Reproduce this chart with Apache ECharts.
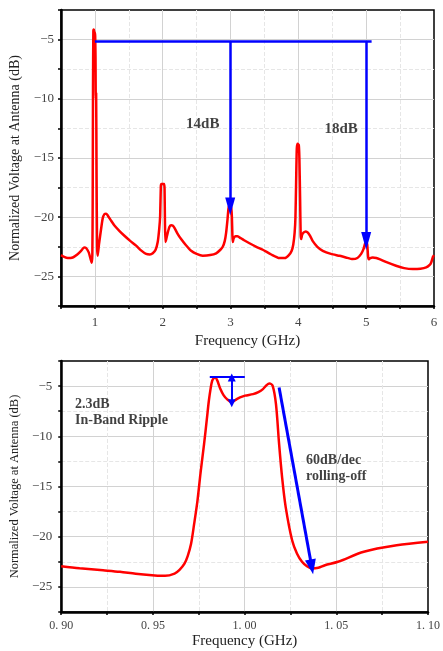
<!DOCTYPE html>
<html><head><meta charset="utf-8">
<script src="https://cdn.jsdelivr.net/npm/echarts@6/dist/echarts.min.js"></script>
<style>html,body{margin:0;padding:0;background:#fff}#c{width:443px;height:651px}</style>
</head><body><div id="c"></div>
<script>
// ---- Top chart data (wideband, 0.5-6 GHz) ----
const topFreq = [0.5,0.53,0.6,0.673,0.74,0.796,0.84,0.87,0.909,0.935,0.953,0.962,0.967,0.972,0.977,0.983,0.989,0.994,0.999,1.004,1.009,1.013,1.018,1.024,1.032,1.041,1.06,1.091,1.115,1.14,1.165,1.189,1.24,1.288,1.36,1.435,1.52,1.608,1.68,1.755,1.81,1.853,1.895,1.926,1.948,1.962,1.972,1.98,2.0,2.02,2.027,2.033,2.04,2.05,2.074,2.1,2.124,2.15,2.173,2.22,2.271,2.34,2.419,2.5,2.59,2.7,2.788,2.85,2.885,2.915,2.935,2.955,2.969,2.985,3.0,3.012,3.02,3.027,3.033,3.045,3.072,3.1,3.131,3.2,3.279,3.38,3.475,3.6,3.72,3.8,3.86,3.9,3.925,3.945,3.957,3.967,3.977,3.99,4.006,4.015,4.026,4.034,4.042,4.055,4.075,4.11,4.14,4.175,4.21,4.28,4.36,4.48,4.606,4.7,4.8,4.87,4.926,4.96,4.985,5.0,5.015,5.028,5.038,5.06,5.097,5.15,5.196,5.3,5.44,5.56,5.687,5.8,5.885,5.94,5.96,5.985,6.0];
const topVolt = [-23.2,-23.3,-23.45,-23.4,-23.15,-22.84,-22.55,-22.6,-22.97,-23.5,-23.85,-23.2,-19,-9,-4.3,-4.15,-4.3,-5.5,-4.4,-4.7,-6.5,-10,-9.5,-16,-22.5,-23.26,-22.3,-21,-20.1,-19.74,-19.7,-19.85,-20.3,-20.7,-21.15,-21.57,-22.0,-22.4,-22.8,-23.1,-23.15,-23.05,-22.75,-22.1,-21,-19.9,-17.4,-17.2,-17.2,-17.2,-17.6,-20.5,-22.1,-21.9,-21.3,-20.8,-20.67,-20.72,-20.9,-21.4,-21.85,-22.35,-22.84,-23.1,-23.25,-23.2,-23.05,-22.75,-22.5,-22.0,-21.3,-20.2,-19.3,-18.95,-19.0,-19.3,-20.0,-21.5,-22.1,-21.8,-21.6,-21.6,-21.7,-21.95,-22.2,-22.5,-22.75,-23.15,-23.45,-23.45,-23.2,-22.85,-22.3,-21.3,-20.0,-17,-14.2,-13.8,-13.9,-15,-18.5,-21.5,-21.85,-21.5,-21.3,-21.2,-21.3,-21.6,-22.0,-22.5,-22.84,-23.1,-23.26,-23.4,-23.54,-23.45,-23.1,-22.7,-22.2,-22.13,-22.3,-23.3,-23.55,-23.45,-23.4,-23.45,-23.54,-23.8,-24.1,-24.3,-24.38,-24.35,-24.24,-24.0,-23.8,-23.34,-23.2];

// ---- Bottom chart data (zoom around 1 GHz) ----
const botFreq = [0.9,0.91,0.9228,0.932,0.9406,0.9495,0.9547,0.9566,0.9618,0.9645,0.9672,0.969,0.9708,0.9725,0.9743,0.976,0.9779,0.9794,0.9805,0.9815,0.9823,0.9832,0.9841,0.985,0.9868,0.9885,0.9904,0.993,0.9957,0.9975,1.0002,1.0046,1.0075,1.01,1.012,1.0135,1.0153,1.0171,1.0188,1.0205,1.0224,1.0259,1.0286,1.0313,1.034,1.0366,1.0402,1.0438,1.0509,1.065,1.0829,1.1];
const botVolt = [-22.95,-23.15,-23.35,-23.5,-23.7,-23.85,-23.9,-23.9,-23.67,-23.3,-22.68,-21.9,-20.7,-18.7,-16.4,-13.6,-10.76,-8.3,-6.46,-5.2,-4.47,-4.2,-4.15,-4.4,-5.3,-5.9,-6.3,-6.6,-6.3,-6.13,-5.95,-5.8,-5.6,-5.3,-4.9,-4.74,-4.97,-6.8,-10.76,-14.2,-17.05,-20.36,-21.7,-22.5,-22.95,-23.17,-23.1,-22.85,-22.5,-21.5,-20.86,-20.5];

// axis tick values
const topXTicks = [1,2,3,4,5,6];
const yTicks = [-5,-10,-15,-20,-25];
const botXTicks = [0.90,0.95,1.00,1.05,1.10];

// annotations (data coordinates)
const topHLine = [[1.0,-5.18],[5.08,-5.18]];
const topArrow1 = [[2.995,-5.18],[2.995,-19.1]];
const topArrow2 = [[5.0,-5.18],[5.0,-22.0]];
const topTexts = [[2.59,-12.15,'14dB'],[4.63,-12.6,'18dB']];
const botHLine = [[0.981,-4.05],[1.0001,-4.05]];
const botRipple = [[0.993,-4.15],[0.993,-6.7]];
const botRoll = [[1.0188,-5.14],[1.0366,-23.0]];
const botTexts = [[0.9075,-6.8,'2.3dB'],[0.9075,-8.45,'In-Band Ripple'],[1.0335,-12.4,'60dB/dec'],[1.0335,-13.97,'rolling-off']];

const zip = (a,b)=>a.map((v,i)=>[v,b[i]]);
const near = (v,list)=>list.some(t=>Math.abs(t-v)<1e-6);
const serif = 'Liberation Serif';
const minus = s => String(s).replace('-','\u2212');

function yAxisMain(gi, nameSize, nameGap, labelMargin){
  return {
    type:'value', gridIndex:gi, min:-27.5, max:-2.5, interval:2.5,
    name:'Normalized Voltage at Antenna (dB)', nameLocation:'middle', nameGap:nameGap,
    nameTextStyle:{fontFamily:serif,fontSize:nameSize,color:'#222'},
    axisLine:{show:true,lineStyle:{color:'#000',width:2.5}},
    axisTick:{show:true,length:3,lineStyle:{color:'#000',width:1.5}},
    axisLabel:{margin:labelMargin,fontFamily:serif,fontSize:13,color:'#444',
      formatter:v=>near(v,yTicks)?minus(Math.round(v)):''},
    splitLine:{show:true,showMinLine:false,showMaxLine:false,lineStyle:{color:'#e6e6e6',type:'dashed',width:1}}
  };
}
function overlayAxis(gi, min, max, interval, colors){
  return {
    type:'value', gridIndex:gi, min:min, max:max, interval:interval,
    axisLine:{show:false}, axisTick:{show:false}, axisLabel:{show:false},
    splitLine:{show:true,showMinLine:false,showMaxLine:false,lineStyle:{color:colors,type:'solid',width:1}}
  };
}

function lineMark(p, startSym, endSym, sizeS, sizeE, extra){
  return [Object.assign({coord:p[0],symbol:startSym,symbolSize:sizeS},extra||{}),{coord:p[1],symbol:endSym,symbolSize:sizeE}];
}

const option = {
  backgroundColor:'#fff',
  animation:false,
  grid:[
    {left:61,right:9,top:10,height:296,show:true,borderColor:'#000',borderWidth:1.5,backgroundColor:'transparent'},
    {left:57.5,right:11,top:361,height:251,show:true,borderColor:'#000',borderWidth:1.5,backgroundColor:'transparent'}
  ],
  xAxis:[
    {type:'value',gridIndex:0,min:0.5,max:6,interval:0.5,
      name:'Frequency (GHz)',nameLocation:'middle',nameGap:28,
      nameTextStyle:{fontFamily:serif,fontSize:15,color:'#222'},
      axisLine:{show:true,onZero:false,lineStyle:{color:'#000',width:2.5}},
      axisTick:{show:true,length:3,lineStyle:{color:'#000',width:1.5}},
      axisLabel:{margin:10,fontFamily:serif,fontSize:13,color:'#444',
        formatter:v=>near(v,topXTicks)?String(Math.round(v)):''},
      splitLine:{show:true,showMinLine:false,showMaxLine:false,lineStyle:{color:'#e6e6e6',type:'dashed',width:1}}},
    {type:'value',gridIndex:1,min:0.9,max:1.1,interval:0.025,
      name:'Frequency (GHz)',nameLocation:'middle',nameGap:22,
      nameTextStyle:{fontFamily:serif,fontSize:15,color:'#222'},
      axisLine:{show:true,onZero:false,lineStyle:{color:'#000',width:2.5}},
      axisTick:{show:true,length:3,lineStyle:{color:'#000',width:1.5}},
      axisLabel:{margin:8,fontFamily:serif,fontSize:12,color:'#444',
        formatter:v=>near(v,botXTicks)?v.toFixed(2).replace('.','. '):''},
      splitLine:{show:true,showMinLine:false,showMaxLine:false,lineStyle:{color:'#e6e6e6',type:'dashed',width:1}}},
    overlayAxis(0,0.5,6,0.5,['#d2d2d2','rgba(0,0,0,0)']),
    overlayAxis(1,0.9,1.1,0.025,['rgba(0,0,0,0)','#d2d2d2'])
  ],
  yAxis:[
    yAxisMain(0,14,30,7),
    yAxisMain(1,12.5,30,9),
    overlayAxis(0,-27.5,-2.5,2.5,['#d2d2d2','rgba(0,0,0,0)']),
    overlayAxis(1,-27.5,-2.5,2.5,['#d2d2d2','rgba(0,0,0,0)'])
  ],
  series:[
    {type:'line',xAxisIndex:0,yAxisIndex:0,data:zip(topFreq,topVolt),showSymbol:false,smooth:0.2,
      lineStyle:{color:'#ff0000',width:2.5},z:3,
      markLine:{silent:true,animation:false,label:{show:false},
        lineStyle:{color:'#0000ff',width:2.5,type:'solid'},
        data:[lineMark(topHLine,'none','none',0,0),
              lineMark(topArrow1,'none','triangle',0,[10,18]),
              lineMark(topArrow2,'none','triangle',0,[10,18])]}},
    {type:'line',xAxisIndex:1,yAxisIndex:1,data:zip(botFreq,botVolt),showSymbol:false,smooth:0.3,
      lineStyle:{color:'#ff0000',width:2.5},z:3,
      markLine:{silent:true,animation:false,label:{show:false},
        lineStyle:{color:'#0000ff',width:2,type:'solid'},
        data:[lineMark(botHLine,'none','none',0,0),
              lineMark(botRipple,'triangle','triangle',[8,8],[8,8]),
              lineMark(botRoll,'none','triangle',0,[11,15],{lineStyle:{width:3}})]}},
    {type:'scatter',xAxisIndex:0,yAxisIndex:0,symbolSize:0,silent:true,z:5,
      data:topTexts.map(t=>({value:[t[0],t[1]],label:{show:true,formatter:t[2]}})),
      label:{show:true,position:'inside',fontFamily:serif,fontWeight:'bold',fontSize:15,color:'#111'}},
    {type:'scatter',xAxisIndex:1,yAxisIndex:1,symbolSize:0,silent:true,z:5,
      data:botTexts.map(t=>({value:[t[0],t[1]],label:{show:true,formatter:t[2]}})),
      label:{show:true,position:'right',distance:0,align:'left',fontFamily:serif,fontWeight:'bold',fontSize:14,color:'#111'}}
  ]
};
const chart = echarts.init(document.getElementById('c'),null,{renderer:'canvas'});
chart.setOption(option);
</script></body></html>
